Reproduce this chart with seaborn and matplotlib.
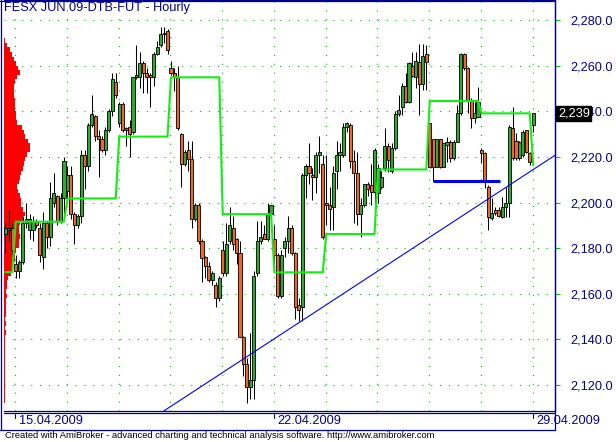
import numpy as np
import pandas as pd
import matplotlib
matplotlib.use('Agg')
import matplotlib.pyplot as plt
import matplotlib.transforms as mtransforms
from matplotlib.lines import Line2D
import seaborn as sns

# hourly bars: last 3 bars of 14.04.2009 ... first bar of 29.04.2009
opens = [2186, 2188, 2189, 2173, 2170, 2174, 2191, 2188, 2188, 2192,
         2189, 2176, 2191, 2185, 2200, 2203, 2192, 2202, 2205, 2212,
         2195, 2190, 2194, 2221, 2216, 2234, 2238, 2229, 2228, 2223,
         2232, 2240, 2253, 2235, 2243, 2232.5, 2233, 2231, 2255, 2255,
         2261, 2257, 2256, 2255, 2265, 2269, 2274, 2275, 2259, 2257,
         2255, 2230, 2217, 2223, 2219, 2193, 2199, 2183, 2176, 2172,
         2166, 2164, 2158, 2179, 2169, 2183, 2189, 2184, 2178, 2141,
         2129, 2119, 2122, 2169, 2183, 2186, 2184, 2195, 2184, 2177,
         2159, 2180, 2183, 2189, 2178, 2155, 2154, 2212, 2216, 2212,
         2211, 2221, 2217, 2200, 2199, 2198, 2214, 2221, 2221, 2233,
         2234, 2218, 2213, 2195, 2199, 2208, 2207.7, 2204.7, 2204, 2207,
         2215, 2225, 2214, 2224, 2239, 2242, 2251, 2244, 2260, 2255,
         2261.7, 2252, 2265, 2234.7, 2227.7, 2215.7, 2227.7, 2215.7, 2225.2, 2226.7,
         2219.4, 2226.7, 2239.1, 2265.1, 2258.8, 2244.9, 2236.9, 2237.6, 2223, 2221.8,
         2206.9, 2193.1, 2196.7, 2196.7, 2193.8, 2197.9, 2199.6, 2232.8, 2227, 2219.4,
         2220.8, 2231.8, 2221.8, 2234]
highs = [2191, 2197, 2191, 2177, 2175, 2194, 2200, 2195, 2194, 2193,
         2191, 2196, 2192, 2209, 2213, 2203.5, 2204, 2220, 2216, 2216,
         2196, 2195, 2223, 2223, 2235, 2247, 2238.5, 2232, 2229, 2233,
         2241, 2257, 2257, 2244, 2244, 2233, 2236, 2255, 2269, 2266,
         2262, 2259, 2257, 2266, 2271, 2277, 2277, 2276, 2262, 2259,
         2260, 2230.5, 2223, 2227, 2227, 2200, 2200, 2184, 2176.5, 2174,
         2170, 2165, 2168, 2183, 2191, 2198, 2194, 2184.5, 2183, 2141.5,
         2132, 2143, 2170, 2192, 2192, 2190, 2200, 2199, 2190, 2178,
         2179, 2185, 2194, 2190, 2178.5, 2158, 2213, 2217, 2226, 2215,
         2222, 2229, 2221, 2221, 2207, 2216, 2227, 2226, 2235, 2235.5,
         2235, 2223, 2222, 2202, 2208, 2209, 2217, 2223.7, 2217, 2214,
         2232.5, 2226, 2226, 2240, 2247, 2252.3, 2256.6, 2261.7, 2266, 2266,
         2269.5, 2269.5, 2269, 2235, 2228, 2228, 2228, 2226.3, 2228.8, 2227.4,
         2227.4, 2242.7, 2265.4, 2265.4, 2259.5, 2245.7, 2244.2, 2250.8, 2223.7, 2222.3,
         2207.7, 2201.8, 2198.2, 2198.2, 2202.5, 2206.9, 2234, 2242, 2230.3, 2227,
         2231.8, 2232, 2222.3, 2239.1]
lows = [2178, 2183, 2177, 2167, 2167, 2173, 2189, 2184, 2183, 2189,
        2174, 2171, 2180, 2181, 2198, 2190, 2191, 2192, 2200, 2193,
        2182, 2189, 2191, 2206, 2214, 2233, 2227, 2211, 2222, 2221,
        2231, 2238, 2246, 2233, 2231, 2225, 2220, 2230, 2254, 2250,
        2248, 2248, 2242, 2251, 2264.5, 2268, 2270, 2265, 2256, 2249,
        2232, 2207, 2216, 2214, 2189, 2192, 2182, 2165, 2167, 2165,
        2164, 2154, 2157, 2168, 2168, 2182, 2179, 2173, 2141, 2124,
        2112, 2114, 2114, 2168, 2182, 2184, 2183, 2190, 2173, 2158,
        2158, 2176, 2178, 2177, 2149, 2148, 2148, 2202, 2208, 2201,
        2204, 2213, 2184, 2190, 2188, 2188, 2206, 2214, 2220, 2231,
        2215, 2191, 2190, 2185, 2198, 2203, 2199, 2198.5, 2200, 2206,
        2214, 2213.5, 2213, 2223, 2238, 2238.5, 2243.5, 2243.5, 2255, 2250,
        2238.4, 2249.3, 2249.3, 2215, 2209.5, 2215.4, 2215, 2215.4, 2217.9, 2217.9,
        2218.6, 2226.5, 2238.4, 2258, 2239.1, 2232.5, 2234.7, 2237.3, 2217.2, 2206.2,
        2187.9, 2192.3, 2194.5, 2193.8, 2193.1, 2193.8, 2193.8, 2218.6, 2218.6, 2218.6,
        2220, 2221.8, 2216.4, 2231]
closes = [2189, 2189, 2179, 2170, 2174, 2191, 2193, 2193, 2192, 2190,
          2177, 2191, 2185, 2202, 2204, 2192, 2202, 2218, 2212, 2195,
          2190, 2194, 2221, 2216, 2234, 2239, 2229, 2228, 2223, 2232,
          2240, 2254, 2247, 2243, 2232, 2231.8, 2230, 2255, 2256, 2261,
          2257, 2255, 2255, 2265, 2268, 2274, 2274.5, 2267, 2257, 2255,
          2232.5, 2217, 2222, 2219, 2193, 2199, 2183, 2175.5, 2172, 2166,
          2169, 2158, 2167, 2169, 2182, 2190, 2182, 2178, 2141, 2129,
          2119, 2122, 2168, 2183, 2185, 2184, 2195, 2199, 2177, 2159,
          2177, 2183, 2189, 2178, 2154, 2153, 2212, 2216, 2213, 2211,
          2221, 2222, 2185, 2199, 2197, 2213, 2221, 2222, 2233, 2235,
          2218, 2213, 2195, 2199, 2208, 2206, 2204.7, 2223, 2215, 2211,
          2225, 2218.6, 2224, 2239, 2240.5, 2251, 2244, 2261, 2255.4, 2262,
          2252, 2264.2, 2261.7, 2215.7, 2215.7, 2227.7, 2215.7, 2226, 2226.7, 2219.4,
          2226.7, 2239.1, 2265.1, 2258.8, 2244.9, 2236.9, 2239.1, 2244.2, 2221.8, 2209.1,
          2193.8, 2195.5, 2195.5, 2194.1, 2198.2, 2199.9, 2233.2, 2219.4, 2219.4, 2226.7,
          2230.9, 2222.3, 2217.9, 2239.1]

# bars per trading day and the daily pivot level (green line)
day_bars = [3, 15, 15, 15, 15, 15, 15, 15, 15, 15, 15, 1]
pivot_levels = [2169.5, 2191.6, 2201.8, 2228.9, 2254.9, 2194.9,
                2169.4, 2186.2, 2214.5, 2244.5, 2239.1, 2216.4]
date_labels = {'15.04.2009': 1, '22.04.2009': 6, '29.04.2009': 11}

# volume-at-price profile (red, left side)
profile_prices = list(range(2271, 2111, -2))
profile_volume = [1, 3, 6.5, 8.5, 10.5, 12, 14, 15.7, 13, 11,
                  10, 10, 10, 11, 11.5, 11.5, 11.7, 11.7, 13, 18.5,
                  20, 21, 24.5, 25.7, 25.7, 23.5, 21, 20.5, 19.5, 17,
                  16, 15, 13.3, 14.5, 16, 16.7, 17.5, 19, 21, 19,
                  16, 15, 15.5, 15.7, 15.5, 15, 12, 11.5, 11, 9,
                  8, 6.7, 4.3, 3.3, 2.5, 2.3, 3.5, 2, 1.7, 1.5,
                  2.3, 1.2, 2, 1.3, 1.8, 1, 1, 1, 1, 1,
                  0.8, 0.7, 0.7, 0.7, 0.7, 0.7, 0.7, 0.7, 0.7, 0.7]

trend_x = [45.6, 159.4]
trend_y = [2108.3, 2220.8]
support_x = [124, 143.5]
support_y = 2209.4
last_price = 2239.1
price_ticks = list(range(2120, 2281, 20))

sns.set_style('white')
plt.rcParams['font.family'] = ['Liberation Sans', 'DejaVu Sans']

navy = '#000090'
W, H = 616, 442
fig = plt.figure(figsize=(W / 100, H / 100), dpi=100)
ax = fig.add_axes([4 / W, 31 / H, 551 / W, 411 / H])
px_per_bar = 3.45
ax.set_xlim(-0.4, -0.4 + 551 / px_per_bar)
ax.set_ylim(2108.6, 2288.8)

df = pd.DataFrame({'open': opens, 'high': highs, 'low': lows, 'close': closes})
df['bar'] = np.arange(len(df))
df['pivot'] = np.repeat(pivot_levels, day_bars)
day_start = np.cumsum([0] + day_bars[:-1])

# grid
ax.set_xticks(day_start[1:] - 0.2)
ax.set_yticks(price_ticks)
ax.set_yticklabels(['{:,.1f}'.format(p) for p in price_ticks])
ax.grid(True, color='#00c800', linestyle=(0, (1, 7)), lw=0.8)
ax.set_axisbelow(True)
ax.tick_params(axis='x', length=0, labelbottom=False)
ax.yaxis.tick_right()
ax.tick_params(axis='y', colors='#00c800', labelcolor=navy, length=3.6,
               width=0.8, pad=7.5, labelsize=9.2)
for s in ['top', 'right', 'bottom']:
    ax.spines[s].set_color(navy)
    ax.spines[s].set_linewidth(0.9)
ax.spines['left'].set_visible(False)

# volume profile
ax.barh(profile_prices, np.array(profile_volume) / px_per_bar, left=-0.4,
        height=2.0, color='#ff0000', lw=0, zorder=2)

# candles
up = df['close'] >= df['open']
ax.vlines(df['bar'], df['low'], df['high'], color='black', lw=0.75, zorder=3)
body_lo = np.minimum(df['open'], df['close'])
body_h = np.maximum((df['close'] - df['open']).abs(), 0.45)
ax.bar(df['bar'], body_h, bottom=body_lo, width=0.9,
       color=np.where(up, '#2faa2f', '#f0652a'), edgecolor='black',
       linewidth=0.6, zorder=4)

# pivot line, trend line, support segment
sns.lineplot(data=df, x='bar', y='pivot', ax=ax, color='#11ee11', lw=1.5,
             zorder=5, estimator=None)
ax.plot(trend_x, trend_y, color='#0000ff', lw=0.8, zorder=6)
ax.hlines(support_y, support_x[0], support_x[1], color='#0000ee', lw=2.2, zorder=6)
ax.set_xlabel('')
ax.set_ylabel('')

# last price box
tr = mtransforms.offset_copy(mtransforms.blended_transform_factory(ax.transAxes, ax.transData),
                             fig=fig, x=3, y=0, units='dots')
ax.text(1.0, last_price, '{:,.0f}'.format(last_price), transform=tr, ha='left', va='center',
        color='white', fontsize=9.2, zorder=20, clip_on=False,
        bbox=dict(boxstyle='square,pad=0.12', fc='black', ec='black'))

# date labels under the chart
xt = ax.get_xaxis_transform()
for lab, d in date_labels.items():
    xd = day_start[d] - 0.2
    ax.add_line(Line2D([xd, xd], [-3 / 411, -7 / 411], transform=xt, color=navy,
                       lw=0.8, clip_on=False))
    ax.text(xd, -10.5 / 411, lab, transform=mtransforms.offset_copy(xt, fig=fig, x=4, units='dots'),
            ha='left', va='center', color=navy, fontsize=9.2, clip_on=False)


def fig_line(x0, y0, x1, y1):
    fig.add_artist(Line2D([x0 / W, x1 / W], [1 - y0 / H, 1 - y1 / H],
                          transform=fig.transFigure, color=navy, lw=0.9))


fig_line(0.5, 0, 0.5, 430)
fig_line(0, 0.5, 555, 0.5)
fig_line(555, 0, 555, 430)
fig_line(4, 413, 555, 413)
fig_line(0, 429.8, 555, 429.8)

fig.text(4 / W, 1 - 2 / H, 'FESX JUN 09-DTB-FUT - Hourly', ha='left', va='top',
         color=navy, fontsize=9.2)
fig.text(5 / W, 1 - 436 / H,
         'Created with AmiBroker - advanced charting and technical analysis software. http://www.amibroker.com',
         ha='left', va='center', color='black', fontsize=6.75)

fig.savefig('out.png', dpi=100)
plt.close(fig)
